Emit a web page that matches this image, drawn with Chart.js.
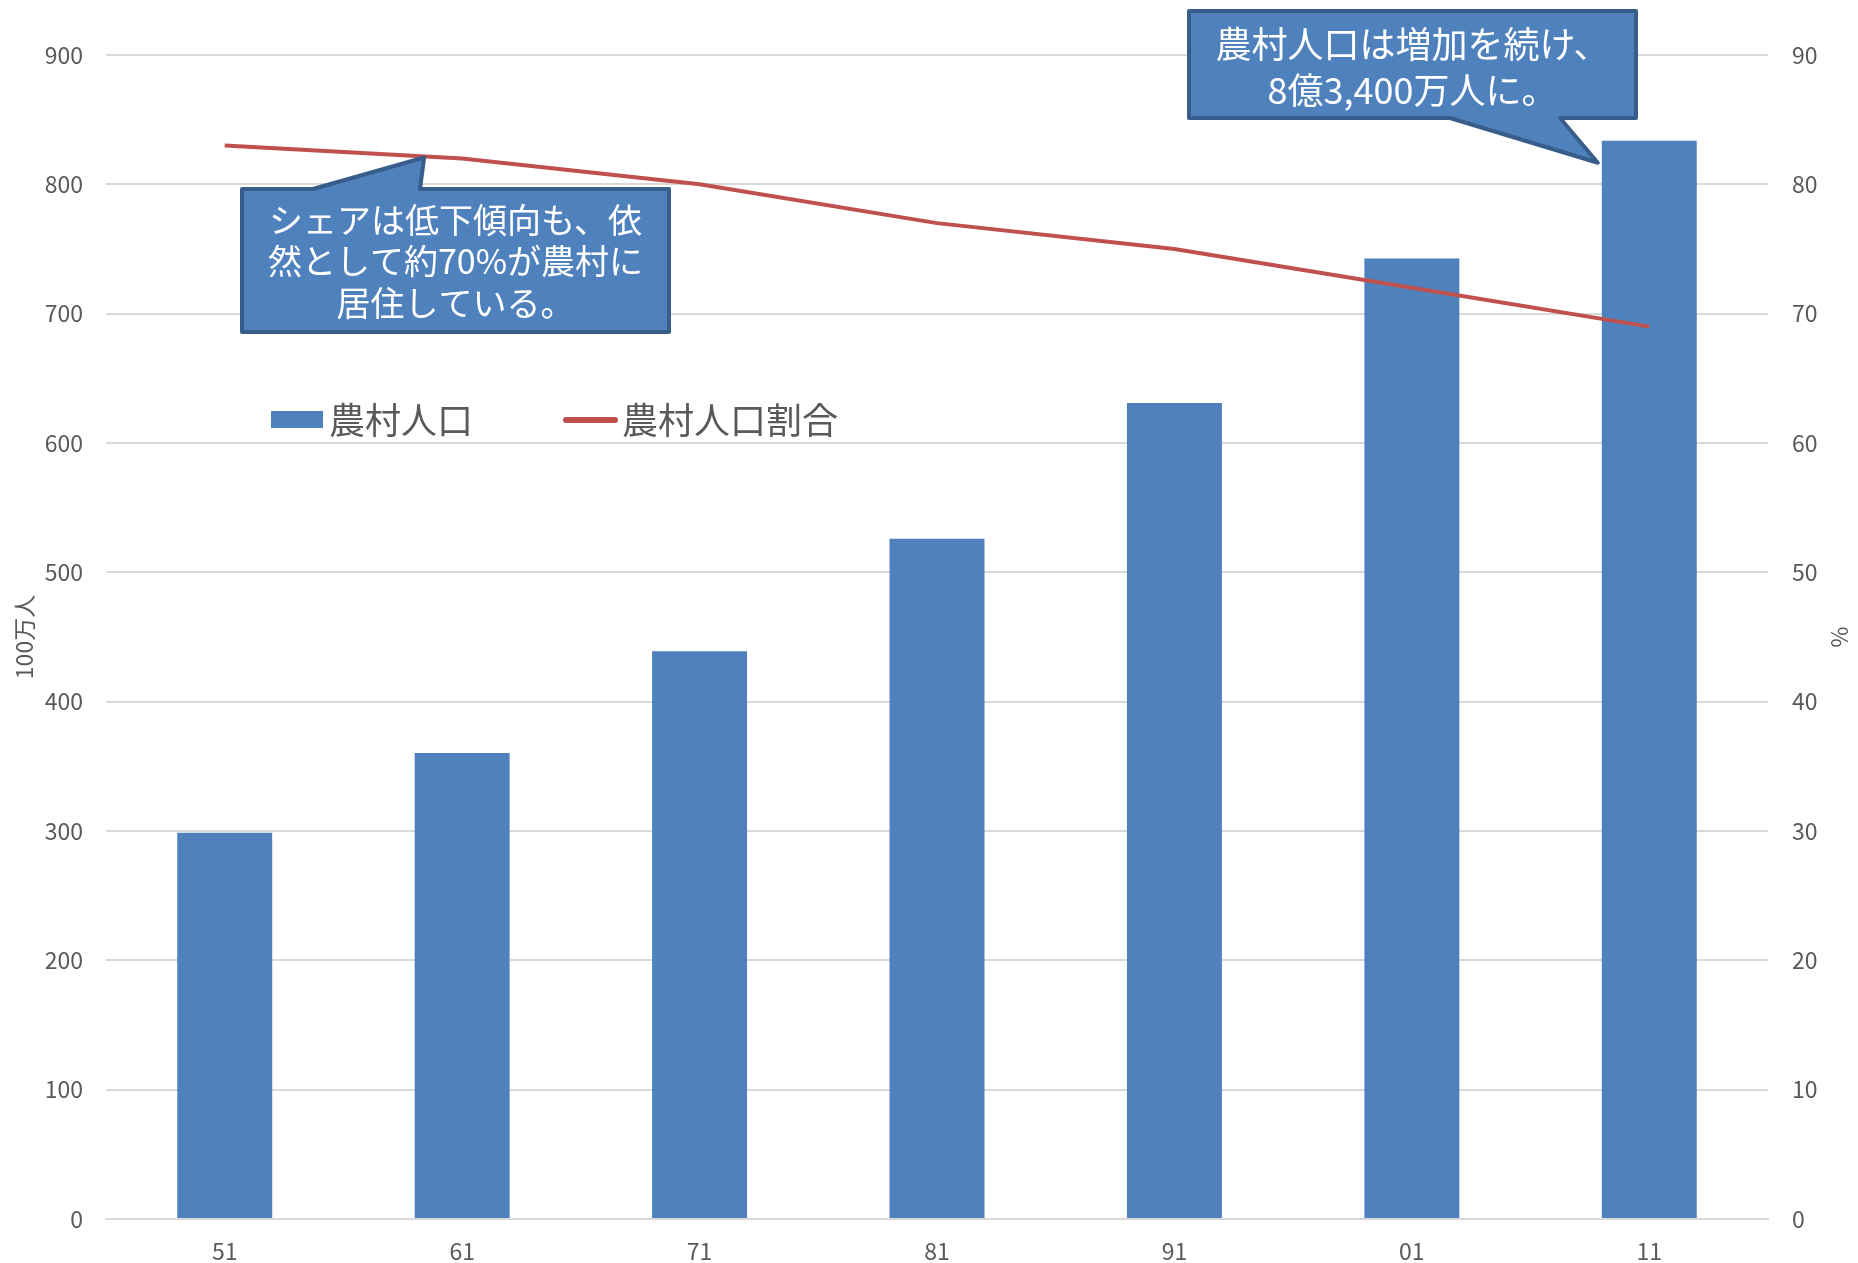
<!DOCTYPE html>
<html><head><meta charset="utf-8">
<script src="https://cdn.jsdelivr.net/npm/chart.js@4.4.0/dist/chart.umd.min.js"></script>
<style>html,body{margin:0;padding:0;background:#fff;} canvas{display:block;}</style>
</head><body>
<canvas id="c" width="1858" height="1263"></canvas>
<script>
const categories = ['51', '61', '71', '81', '91', '01', '11'];
const ruralPopulation = [298.6, 360.3, 439.0, 526.0, 631.0, 742.6, 833.7];
const ruralShare = [83, 82, 80, 77, 75, 72, 69];
const seriesNames = ['農村人口', '農村人口割合'];
const axisTitles = ['100万人', '%'];
const calloutGrowth = ['農村人口は増加を続け、', '8億3,400万人に。'];
const calloutShare = ['シェアは低下傾向も、依', '然として約70%が農村に', '居住している。'];

const FONT = "'Noto Sans CJK JP', 'Noto Sans', sans-serif";
const TXT = '#595959';
const BLUE = '#4F81BD';
const RED = '#C0504D';
const BORDER = '#385D8A';

function drawCallout(ctx, box, pointer, lines, fontSize, lineGap, firstY) {
  ctx.save();
  ctx.beginPath();
  const {l, t, r, b} = box;
  ctx.moveTo(l, t);
  if (pointer.side === 'top') {
    ctx.lineTo(pointer.a, t);
    ctx.lineTo(pointer.tip.x, pointer.tip.y);
    ctx.lineTo(pointer.b, t);
  }
  ctx.lineTo(r, t);
  ctx.lineTo(r, b);
  if (pointer.side === 'bottom') {
    ctx.lineTo(pointer.b, b);
    ctx.lineTo(pointer.tip.x, pointer.tip.y);
    ctx.lineTo(pointer.a, b);
  }
  ctx.lineTo(l, b);
  ctx.closePath();
  ctx.fillStyle = BLUE;
  ctx.fill();
  ctx.lineWidth = 4;
  ctx.lineJoin = 'round';
  ctx.strokeStyle = BORDER;
  ctx.stroke();
  ctx.fillStyle = '#ffffff';
  ctx.font = fontSize + 'px ' + FONT;
  ctx.textAlign = 'center';
  ctx.textBaseline = 'middle';
  const cx = (l + r) / 2;
  lines.forEach((s, i) => ctx.fillText(s, cx, firstY + i * lineGap));
  ctx.restore();
}

const overlayPlugin = {
  id: 'overlay',
  afterDatasetsDraw(chart) {
    const ctx = chart.ctx;
    const xs = chart.scales.x, y1 = chart.scales.y1;
    const barIdx = chart.data.datasets.findIndex(d => d.type === 'bar');
    const lineIdx = chart.data.datasets.findIndex(d => d.type === 'line');
    const barDs = chart.data.datasets[barIdx], lineDs = chart.data.datasets[lineIdx];
    const bar = chart.getDatasetMeta(barIdx).data[6];
    const tipGrowth = {x: bar.x - bar.width / 2 - 4, y: bar.y + 22};
    const tipShare = {x: xs.getPixelForValue(1) - 38, y: y1.getPixelForValue(ruralShare[1]) - 1};

    drawCallout(ctx, {l: 1189, t: 11, r: 1636, b: 118},
      {side: 'bottom', a: 1450, b: 1560, tip: tipGrowth},
      calloutGrowth, 36, 46, 44);
    drawCallout(ctx, {l: 242, t: 189, r: 669, b: 332},
      {side: 'top', a: 313, b: 420, tip: tipShare},
      calloutShare, 34, 41.5, 220);

    // legend
    ctx.save();
    ctx.font = '36px ' + FONT;
    ctx.textBaseline = 'middle';
    ctx.textAlign = 'left';
    ctx.fillStyle = barDs.backgroundColor;
    ctx.fillRect(271, 411, 52, 17);
    ctx.fillStyle = TXT;
    ctx.fillText(barDs.label, 329, 420);
    ctx.beginPath();
    ctx.moveTo(566, 420);
    ctx.lineTo(615, 420);
    ctx.lineWidth = 6;
    ctx.lineCap = 'round';
    ctx.strokeStyle = lineDs.borderColor;
    ctx.stroke();
    ctx.fillText(lineDs.label, 622, 420);
    ctx.restore();
  }
};

new Chart(document.getElementById('c'), {
  data: {
    labels: categories,
    datasets: [
      {
        type: 'line', label: seriesNames[1], data: ruralShare, yAxisID: 'y1',
        borderColor: RED, borderWidth: 4, pointRadius: 0, tension: 0, order: 0,
        fill: false
      },
      {
        type: 'bar', label: seriesNames[0], data: ruralPopulation, yAxisID: 'y',
        backgroundColor: BLUE, borderWidth: 0, barPercentage: 0.4, categoryPercentage: 1, order: 1
      }
    ]
  },
  options: {
    responsive: false,
    devicePixelRatio: 1,
    animation: false,
    layout: {padding: {top: 55, left: 0, right: 0, bottom: 0}},
    plugins: {legend: {display: false}, tooltip: {enabled: false}},
    scales: {
      x: {
        grid: {display: false},
        border: {display: true, color: '#D9D9D9', width: 2},
        ticks: {color: TXT, font: {family: FONT, size: 23}, padding: 10, maxRotation: 0},
        afterFit: s => { s.height = 44; }
      },
      y: {
        position: 'left', min: 0, max: 900,
        ticks: {stepSize: 100, color: TXT, font: {family: FONT, size: 23}, padding: 23},
        grid: {color: '#D9D9D9', lineWidth: 2, drawTicks: false},
        border: {display: false},
        title: {display: true, text: axisTitles[0], color: TXT, font: {family: FONT, size: 23}, padding: {top: 10, bottom: 0}},
        afterFit: s => { s.width = 106; }
      },
      y1: {
        position: 'right', min: 0, max: 90,
        ticks: {stepSize: 10, color: TXT, font: {family: FONT, size: 23}, padding: 24},
        grid: {display: false, drawTicks: false},
        border: {display: false},
        title: {display: true, text: axisTitles[1], color: TXT, font: {family: FONT, size: 23}, padding: {top: 4, bottom: 0}},
        afterFit: s => { s.width = 90; }
      }
    }
  },
  plugins: [overlayPlugin]
});
</script>
</body></html>
